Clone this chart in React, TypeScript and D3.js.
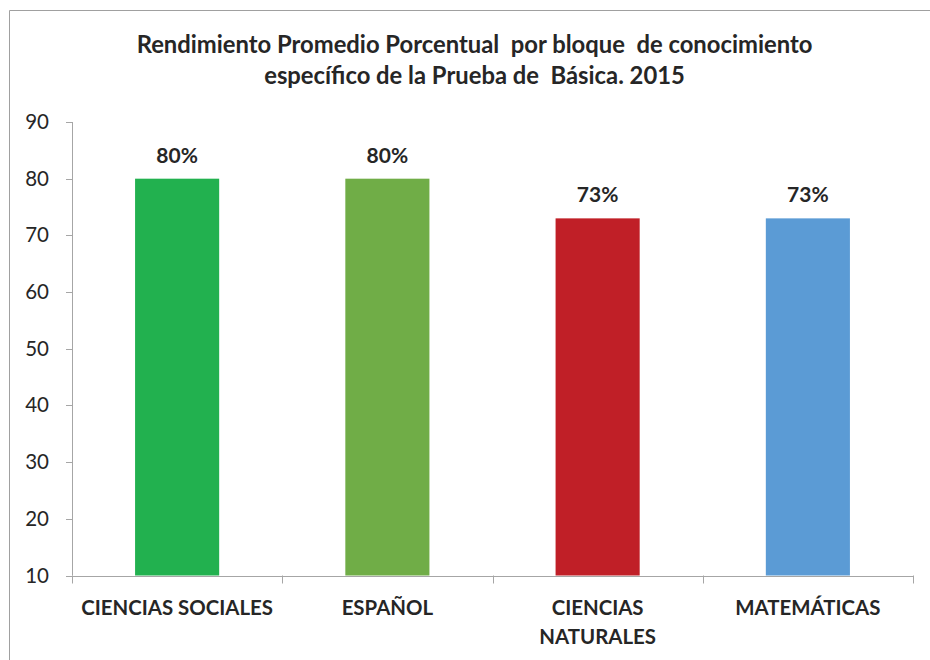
import React from "react";
import * as d3 from "d3";

const categories: string[][] = [["CIENCIAS SOCIALES"], ["ESPAÑOL"], ["CIENCIAS", "NATURALES"], ["MATEMÁTICAS"]];
const values: number[] = [80, 80, 73, 73];
const valueLabels: string[] = ["80%", "80%", "73%", "73%"];
const colors: string[] = ["#22B14F", "#70AD47", "#C01F27", "#5B9BD5"];
const yTicks: number[] = [10, 20, 30, 40, 50, 60, 70, 80, 90];
const titleLines: string[] = [
  "Rendimiento Promedio Porcentual  por bloque  de conocimiento",
  "específico de la Prueba de  Básica. 2015",
];

const W = 930;
const H = 660;
const FONT = "Lato, 'Open Sans', sans-serif";

export default function App() {
  const left = 72;
  const right = 913;
  const top = 122;
  const bottom = 575.5;
  const x = d3.scaleBand<number>().domain(d3.range(categories.length)).range([left, right]).paddingInner(0.6).paddingOuter(0.3);
  const band = d3.scaleBand<number>().domain(d3.range(categories.length)).range([left, right]);
  const y = d3.scaleLinear().domain([10, 90]).range([bottom, top]);
  const axisColor = "#A6A6A6";
  const textColor = "#262626";

  return (
    <svg width={W} height={H} style={{ position: "absolute", left: 0, top: 0 }}>
      <rect x={0} y={0} width={W} height={H} fill="#fff" />
      <path d={`M9.5,${H} V10.5 H${W}`} fill="none" stroke="#A0A0A0" strokeWidth={1} />
      {titleLines.map((t, i) => (
        <text key={i} x={474.5} y={53 + i * 31} textAnchor="middle" fontFamily={FONT} fontWeight="bold" fontSize={23.8} fill={textColor} style={{ whiteSpace: "pre" }}>
          {t}
        </text>
      ))}
      {/* y axis */}
      <line x1={left + 0.5} x2={left + 0.5} y1={y(90)} y2={bottom} stroke={axisColor} />
      {yTicks.map((t) => (
        <g key={t}>
          <line x1={left - 6} x2={left} y1={Math.round(y(t)) + 0.5} y2={Math.round(y(t)) + 0.5} stroke={axisColor} />
          <text x={49} y={y(t) + 7} textAnchor="end" fontFamily={FONT} fontSize={20.5} fill={textColor}>
            {t}
          </text>
        </g>
      ))}
      {/* bars */}
      {values.map((v, i) => (
        <g key={i}>
          <rect x={x(i)!} y={y(v)} width={x.bandwidth()} height={bottom - y(v)} fill={colors[i]} />
          <text x={x(i)! + x.bandwidth() / 2} y={y(v) - 16} textAnchor="middle" fontFamily={FONT} fontWeight="bold" fontSize={21} fill={textColor}>
            {valueLabels[i]}
          </text>
        </g>
      ))}
      {/* x axis */}
      <line x1={left} x2={right} y1={Math.round(bottom) + 0.5} y2={Math.round(bottom) + 0.5} stroke={axisColor} />
      {d3.range(categories.length + 1).map((i) => {
        const xx = Math.round(i < categories.length ? band(i)! : right) + 0.5;
        return <line key={i} x1={xx} x2={xx} y1={bottom} y2={bottom + 8} stroke={axisColor} />;
      })}
      {categories.map((lines, i) => (
        <text key={i} x={band(i)! + band.bandwidth() / 2} textAnchor="middle" fontFamily={FONT} fontWeight="bold" fontSize={20.4} fill={textColor}>
          {lines.map((l, j) => (
            <tspan key={j} x={band(i)! + band.bandwidth() / 2} y={615 + j * 29}>
              {l}
            </tspan>
          ))}
        </text>
      ))}
    </svg>
  );
}
